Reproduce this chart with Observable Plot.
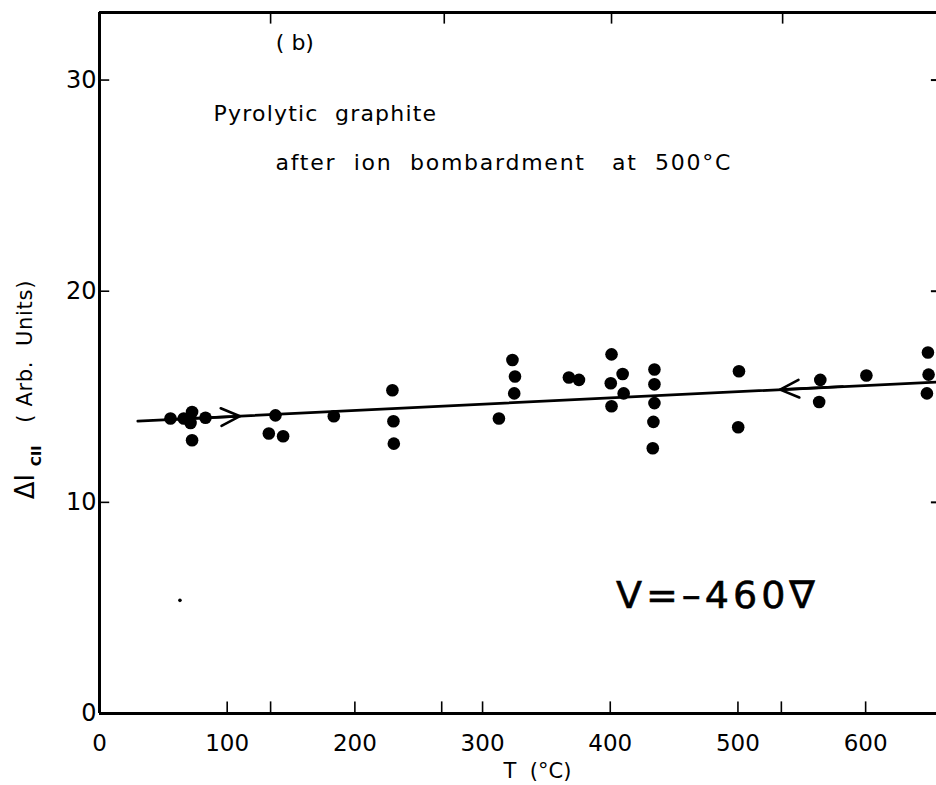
<!DOCTYPE html>
<html><head><meta charset="utf-8">
<script src="https://cdn.jsdelivr.net/npm/d3@7"></script>
<script src="https://cdn.jsdelivr.net/npm/@observablehq/plot@0.6"></script>
<style>html,body{margin:0;padding:0;background:#fff;overflow:hidden}#chart svg{display:block}</style>
</head><body><div id="chart"></div>
<script>
// Measured data: temperature (°C) and ΔI_CII (arb. units)
const tempC = [55.6, 66, 72.5, 71.3, 72.5, 83, 132.6, 137.8, 143.8, 183.5, 229.4, 230.2, 230.5,
  312.8, 323.4, 325.4, 324.8, 367.6, 375.5, 401, 400.4, 401, 409.7, 410.5, 434.6, 434.6, 434.6,
  433.8, 433.3, 500.8, 500.2, 564.5, 563.6, 600.6, 648.8, 649.3, 648];
const deltaI = [13.97, 13.97, 14.28, 13.76, 12.94, 14.01, 13.26, 14.12, 13.13, 14.08, 15.31, 13.84, 12.78,
  13.97, 16.74, 15.96, 15.16, 15.91, 15.80, 17.01, 15.64, 14.55, 16.08, 15.16, 16.29, 15.59, 14.70,
  13.81, 12.56, 16.21, 13.56, 15.80, 14.75, 16.01, 17.10, 16.05, 15.16];
// Fitted line (endpoints) and direction arrows
const fitT = [30, 655.5];
const fitI = [13.85, 15.70];
const arrowFromT = [60, 582];
const arrowFromI = [13.94, 15.49];
const arrowToT = [110, 533];
const arrowToI = [14.08, 15.34];
// Stray speck in the scan
const speckT = [63];
const speckI = [5.36];
// Axes
const xTickValues = [0, 100, 200, 300, 400, 500, 600];
const yTickValues = [0, 10, 20, 30];
const bottomTickMarks = [100, 134, 200, 268, 300, 400, 500, 534, 600];
const topTickMarks = [134, 270, 401, 535];
const leftTickMarks = [10, 20, 30];
const rightTickMarks = [10, 20, 30];
const xMax = 655.5;
const yMax = 33.2;

const points = tempC.map((t, i) => ({t, v: deltaI[i]}));
const fit = fitT.map((t, i) => ({t, v: fitI[i]}));
const arrows = arrowFromT.map((t, i) => ({x1: t, y1: arrowFromI[i], x2: arrowToT[i], y2: arrowToI[i]}));
const specks = speckT.map((t, i) => ({t, v: speckI[i]}));

const font = "'DejaVu Sans', sans-serif";
const chart = Plot.plot({
  width: 936, height: 785,
  marginLeft: 99, marginRight: 0, marginTop: 12, marginBottom: 72,
  x: {domain: [0, xMax]},
  y: {domain: [0, yMax]},
  style: {fontFamily: font, fontSize: "23px", color: "#000", background: "#fff", overflow: "visible"},
  marks: [
    Plot.axisX(xTickValues, {tickSize: 0, tickPadding: 21, label: null, fontSize: 23}),
    Plot.axisY(yTickValues, {tickSize: 0, tickPadding: 3, label: null, fontSize: 24}),
    Plot.ruleY([0], {x1: 0, x2: xMax, strokeWidth: 3}),
    Plot.ruleY([yMax], {x1: 0, x2: xMax, strokeWidth: 3}),
    Plot.ruleX([0], {y1: 0, y2: yMax, strokeWidth: 3}),
    Plot.ruleX(bottomTickMarks, {y1: 0, y2: 0.55, strokeWidth: 1.6}),
    Plot.ruleX(topTickMarks, {y1: yMax, y2: yMax - 0.55, strokeWidth: 1.6}),
    Plot.ruleY(leftTickMarks, {x1: 0, x2: 8, strokeWidth: 1.6}),
    Plot.ruleY(rightTickMarks, {x1: xMax - 4, x2: xMax, strokeWidth: 2}),
    Plot.line(fit, {x: "t", y: "v", strokeWidth: 2.7, stroke: "#000"}),
    Plot.arrow(arrows, {x1: "x1", y1: "y1", x2: "x2", y2: "y2", strokeWidth: 2.6, headLength: 12, headAngle: 50, stroke: "#000"}),
    Plot.dot(points, {x: "t", y: "v", r: 6.3, fill: "#000", stroke: "none"}),
    Plot.dot(specks, {x: "t", y: "v", r: 1.8, fill: "#000"}),
    Plot.text(["( b)"], {x: 153, y: 31.75, fontSize: 22, textAnchor: "middle"}),
    Plot.text(["Pyrolytic  graphite"], {x: 89.3, y: 28.4, fontSize: 22, textAnchor: "start"}),
    Plot.text(["after  ion  bombardment   at  500°C"], {x: 137.8, y: 26.07, fontSize: 22, textAnchor: "start"}),
    Plot.text(["V=–460∇"], {x: 404.5, y: 5.55, fontSize: 38, textAnchor: "start"}),
    Plot.text(["T  (°C)"], {x: 343, y: -2.75, fontSize: 21, textAnchor: "middle"}),
    Plot.text(["ΔI"], {x: -58, y: 10.75, fontSize: 26, rotate: -90}),
    Plot.text(["CII"], {x: -49, y: 12.2, fontSize: 14, fontWeight: "bold", rotate: -90}),
    Plot.text(["( Arb.  Units)"], {x: -58, y: 17.15, fontSize: 21, rotate: -90})
  ]
});
document.getElementById("chart").append(chart);
// widen lettering to match the stencil spacing of the original
const sel = d3.select(chart).selectAll("text");
sel.filter(function() { return this.textContent.startsWith("after"); }).attr("letter-spacing", "1.75px");
sel.filter(function() { return this.textContent.startsWith("Pyro"); }).attr("letter-spacing", "1.2px");
sel.filter(function() { return this.textContent.startsWith("( Arb"); }).attr("letter-spacing", "0.7px");
sel.filter(function() { return this.textContent.startsWith("V="); })
  .attr("letter-spacing", "4px").attr("stroke", "#000").attr("stroke-width", 0.6);
</script>
</body></html>
